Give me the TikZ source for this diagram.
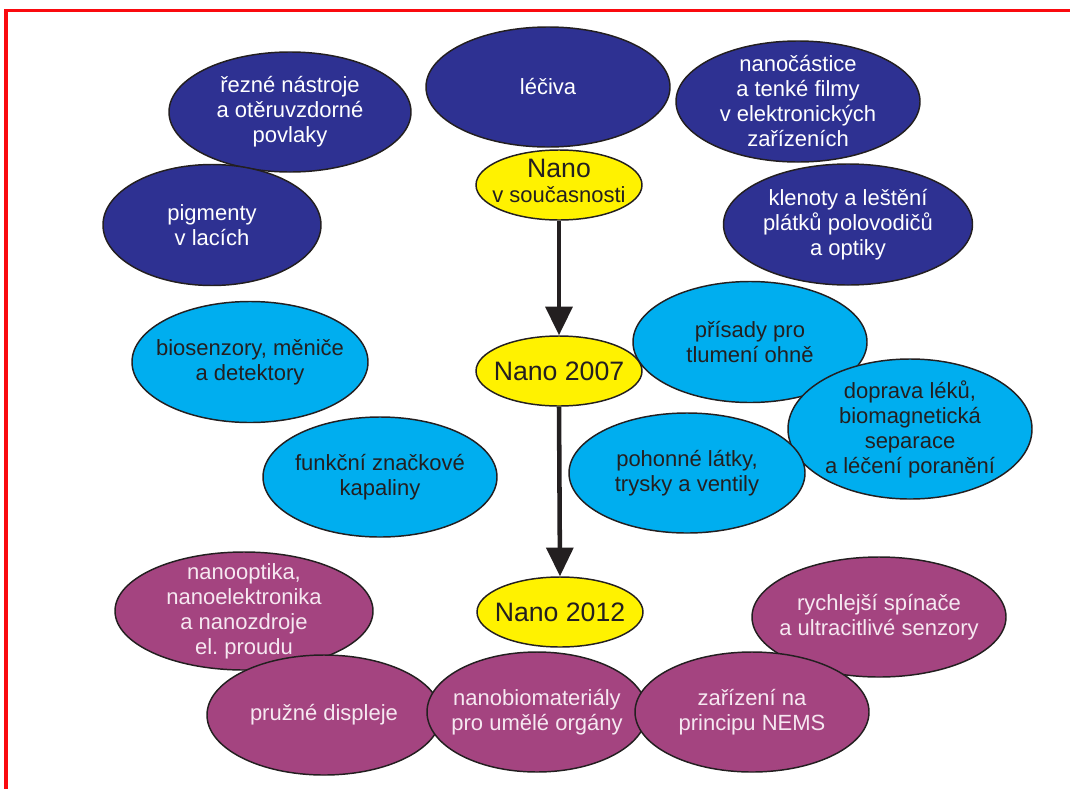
\documentclass[tikz,border=0pt]{standalone}
\usepackage{fontspec}
\setmainfont{Liberation Sans}
\usetikzlibrary{shapes.geometric,arrows.meta}
\definecolor{dblue}{RGB}{46,49,146}
\definecolor{cyanb}{RGB}{0,174,239}
\definecolor{yell}{RGB}{255,242,0}
\definecolor{purp}{RGB}{164,68,128}
\definecolor{ink}{RGB}{35,31,32}
\definecolor{framered}{RGB}{250,10,15}
\definecolor{ptext}{RGB}{246,232,241}
\tikzset{
  blob/.style 2 args={ellipse, draw=ink, line width=1.1pt, inner sep=0pt,
    minimum width=#1*1.5pt, minimum height=#2*1.5pt},
  bluebox/.style={fill=dblue},
  cyanbox/.style={fill=cyanb},
  yellbox/.style={fill=yell},
  purpbox/.style={fill=purp},
  txt/.style={align=center, inner sep=0pt, font=\fontsize{16.5}{18.75}\selectfont},
  wtxt/.style={txt, text=white},
  btxt/.style={txt, text=ink},
  ptxt/.style={txt, text=ptext},
  bigtxt/.style={align=center, inner sep=0pt, text=ink, font=\fontsize{20}{22}\selectfont},
  arr/.style={draw=ink, line width=3.4pt, -{Triangle[width=20pt,length=21.5pt]}}
}
\begin{document}
\begin{tikzpicture}[x=0.75pt, y=-0.75pt]
\useasboundingbox (0,0) rectangle (1070,789);
% frame
\coordinate (ftl) at (6,10.5);
\coordinate (ftr) at (1070,10.5);
\coordinate (fbl) at (6,789);
\draw[framered, line width=2.5pt] (ftr) -- (ftl) -- (fbl);

% top group
\node[blob={122}{60}, bluebox] (leciva) at (548,87) {};
\node[wtxt] (leciva-t) at (leciva) {léčiva};
\node[blob={121}{60}, bluebox] (rezne) at (290,112) {};
\node[wtxt] (rezne-t) at (rezne) {řezné nástroje\\a otěruvzdorné\\povlaky};
\node[blob={109}{60.5}, bluebox] (pigm) at (212,225) {};
\node[wtxt] (pigm-t) at (pigm) {pigmenty\\v lacích};
\node[blob={122}{60.5}, bluebox] (nanoc) at (798,101.5) {};
\node[wtxt] (nanoc-t) at (nanoc) {nanočástice\\a tenké filmy\\v elektronických\\zařízeních};
\node[blob={124.5}{60.5}, bluebox] (klen) at (848,224.5) {};
\node[wtxt] (klen-t) at (klen) {klenoty a leštění\\plátků polovodičů\\a optiky};
\node[blob={83}{35}, yellbox] (nsouc) at (559,185) {};
\node[btxt] (nsouc-t) at (559,181) {{\fontsize{20}{18.75}\selectfont Nano}\\v současnosti};

% middle group
\node[blob={118}{60.5}, cyanbox] (bios) at (250,362) {};
\node[btxt] (bios-t) at (bios) {biosenzory, měniče\\a detektory};
\node[blob={117}{60}, cyanbox] (funkc) at (380,477) {};
\node[btxt] (funkc-t) at (funkc) {funkční značkové\\kapaliny};
\node[blob={117}{60.5}, cyanbox] (prisady) at (750,342) {};
\node[btxt] (prisady-t) at (prisady) {přísady pro\\tlumení ohně};
\node[blob={122}{70}, cyanbox] (doprava) at (910,429) {};
\node[btxt] (doprava-t) at (doprava) {doprava léků,\\biomagnetická\\separace\\a léčení poranění};
\node[blob={118}{60}, cyanbox] (pohon) at (687,473) {};
\node[btxt] (pohon-t) at (pohon) {pohonné látky,\\trysky a ventily};
\node[blob={83}{35}, yellbox] (n2007) at (559,371) {};
\node[bigtxt] (n2007-t) at (n2007) {Nano 2007};

% bottom group
\node[blob={129}{59}, purpbox] (nopt) at (244,611) {};
\node[ptxt] (nopt-t) at (nopt) {nanooptika,\\nanoelektronika\\a nanozdroje\\el.\ proudu};
\node[blob={127}{60}, purpbox] (rychl) at (879,617) {};
\node[ptxt] (rychl-t) at (rychl) {rychlejší spínače\\a ultracitlivé senzory};
\node[blob={117}{60}, purpbox] (pruz) at (324,715) {};
\node[ptxt] (pruz-t) at (pruz) {pružné displeje};
\node[blob={110}{60}, purpbox] (nbio) at (537,712) {};
\node[ptxt] (nbio-t) at (nbio) {nanobiomateriály\\pro umělé orgány};
\node[blob={117}{60}, purpbox] (nems) at (752,712) {};
\node[ptxt] (nems-t) at (nems) {zařízení na\\principu NEMS};
\node[blob={83}{35}, yellbox] (n2012) at (560,612) {};
\node[bigtxt] (n2012-t) at (n2012) {Nano 2012};

% arrows
\draw[arr] (nsouc.south) -- (n2007.north);
\draw[arr] (n2007.south) -- (n2012.north);
\end{tikzpicture}
\end{document}
